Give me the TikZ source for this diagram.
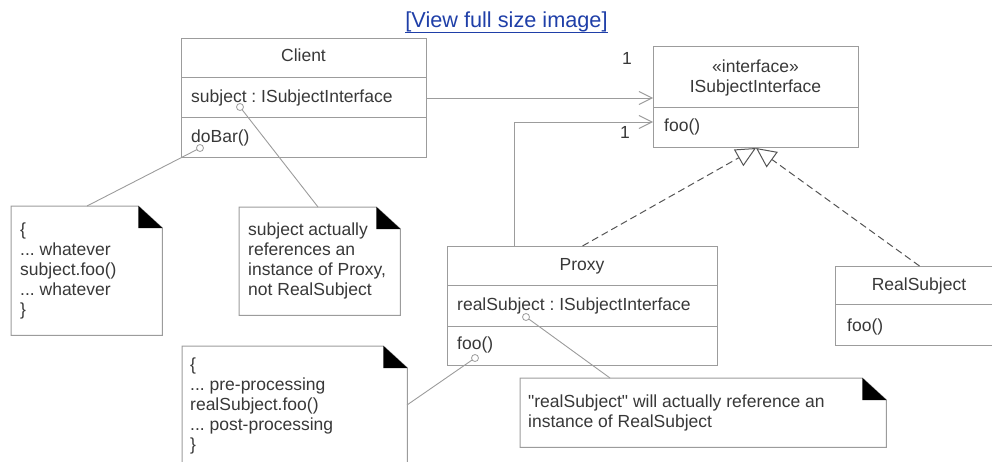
\documentclass[tikz,border=0pt]{standalone}
\usepackage{fontspec}
\setmainfont{Liberation Sans}
\usetikzlibrary{arrows.meta}
\definecolor{boxgray}{HTML}{9C9C9C}
\definecolor{dashgray}{HTML}{555555}
\definecolor{txtgray}{HTML}{383838}
\definecolor{linkblue}{HTML}{1F3FA8}
\frenchspacing
\newcommand{\umlnote}[5]{%
  \node[inner sep=0pt, minimum width=#4pt, minimum height=#5pt, anchor=north west] (#1) at (#2,#3) {};
  \draw[boxline, fill=white] (#1.north west) -- ([xshift=-24pt]#1.north east) -- ([yshift=-22pt]#1.north east) -- (#1.south east) -- (#1.south west) -- cycle;
  \fill[black] ([xshift=-24pt]#1.north east) -- ([xshift=-24pt,yshift=-22pt]#1.north east) -- ([yshift=-22pt]#1.north east) -- cycle;
}
\begin{document}
\begin{tikzpicture}[x=1pt,y=-1pt,
  boxline/.style={draw=boxgray, line width=1pt},
  classbox/.style={draw=boxgray, line width=1pt, inner sep=0pt, anchor=north west},
  lbl/.style={inner sep=0pt, text=txtgray, font=\fontsize{17.5}{20}\selectfont, text height=12.5pt, text depth=3.5pt},
  notetext/.style={inner sep=0pt, align=left, anchor=north west, text=txtgray, font=\fontsize{17.5}{20}\selectfont},
  linktext/.style={inner sep=0pt, text=linkblue, font=\fontsize{21.7}{25}\selectfont},
  pincirc/.style={circle, draw=boxgray, fill=white, line width=0.8pt, minimum size=7pt, inner sep=0pt},
  noteline/.style={draw=boxgray, line width=0.9pt},
  assoc/.style={draw=boxgray, line width=1pt, -{Straight Barb[length=13pt,width=13pt]}},
  gen/.style={draw=dashgray, line width=1pt, dash pattern=on 7pt off 4pt, -{Triangle[open, length=20pt, width=19pt, fill=white]}}
]
\useasboundingbox (0,0) rectangle (992,461);
\clip (0,0) rectangle (992,461);

% link
\node[linktext, anchor=base] (link) at (506.5,27) {[View full size image]};
\draw[linkblue, line width=1pt] ([yshift=-5pt]link.base west) -- ([yshift=-5pt]link.base east);

% Client
\node[classbox, minimum width=245pt, minimum height=119pt] (client) at (181,38) {};
\draw[boxline] (181,77) -- (426,77);
\draw[boxline] (181,117) -- (426,117);
\node[lbl] (clientname) at (303.5,57) {Client};
\node[lbl, anchor=west] (clientattr) at (191,98) {subject : ISubjectInterface};
\node[lbl, anchor=west] (clientop) at (191,138) {doBar()};

% ISubjectInterface
\node[classbox, minimum width=205pt, minimum height=101pt] (iface) at (653,46) {};
\draw[boxline] (653,107) -- (858,107);
\node[lbl] (ifstereo) at (755.5,68) {«interface»};
\node[lbl] (ifname) at (755.5,88) {ISubjectInterface};
\node[lbl, anchor=west] (ifop) at (664,127) {foo()};

% Proxy
\node[classbox, minimum width=270pt, minimum height=119pt] (proxy) at (447,246) {};
\draw[boxline] (447,285) -- (717,285);
\draw[boxline] (447,326) -- (717,326);
\node[lbl] (proxyname) at (582,266) {Proxy};
\node[lbl, anchor=west] (proxyattr) at (457,306) {realSubject : ISubjectInterface};
\node[lbl, anchor=west] (proxyop) at (457,345) {foo()};

% RealSubject
\node[classbox, minimum width=168pt, minimum height=79pt] (rsub) at (835,266) {};
\draw[boxline] (835,304) -- (1003,304);
\node[lbl] (rsubname) at (919,286) {RealSubject};
\node[lbl, anchor=west] (rsubop) at (847,327) {foo()};

% notes
\umlnote{n1}{11}{206}{151}{129}
\node[notetext] (n1t) at (20,221) {\rule{0pt}{14pt}\{\\... whatever\\subject.foo()\\... whatever\\\}};
\umlnote{n2}{239}{207}{161}{108}
\node[notetext] (n2t) at (248,221) {\rule{0pt}{14pt}subject actually\\references an\\instance of Proxy,\\not RealSubject};
\umlnote{n3}{182}{346}{225}{130}
\node[notetext] (n3t) at (190,356) {\rule{0pt}{14pt}\{\\... pre-processing\\realSubject.foo()\\... post-processing\\\}};
\umlnote{n4}{520}{378}{366}{69}
\node[notetext] (n4t) at (528,393) {\rule{0pt}{14pt}\textquotedbl realSubject\textquotedbl{} will actually reference an\\instance of RealSubject};

% note connectors
\coordinate (n1a) at (87,206);
\coordinate (n2a) at (318,207);
\coordinate (n3a) at (407,405);
\coordinate (n4a) at (610,378);
\draw[noteline] (200,148) -- (n1a);
\draw[noteline] (240,107) -- (n2a);
\draw[noteline] (475,358) -- (n3a);
\draw[noteline] (526,317) -- (n4a);
\node[pincirc] (cdo) at (200,148) {};
\node[pincirc] (csub) at (240,107) {};
\node[pincirc] (cfoo) at (475,358) {};
\node[pincirc] (creal) at (526,317) {};

% associations
\draw[assoc] (client.east) -- (client.east -| iface.west);
\coordinate (bend) at (514,122);
\draw[assoc] (proxy.north -| bend) -- (bend) -- (bend -| iface.west);
\node[lbl] (m1) at (627,60) {1};
\node[lbl] (m2) at (625,134) {1};

% realizations
\draw[gen] (proxy.north) -- (iface.south);
\draw[gen] (rsub.north) -- (iface.south);
\end{tikzpicture}
\end{document}
